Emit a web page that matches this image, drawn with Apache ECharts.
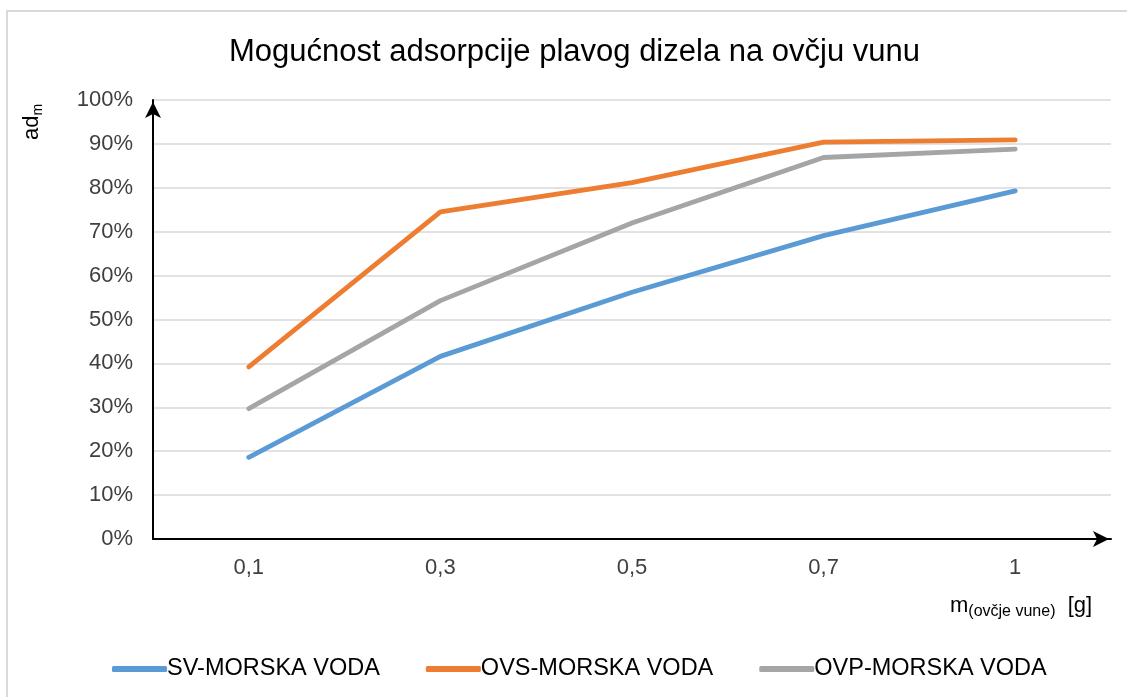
<!doctype html>
<html>
<head>
    <meta charset="utf-8">
    <title>Mogućnost adsorpcije plavog dizela na ovčju vunu</title>
    <script src="https://cdn.jsdelivr.net/npm/echarts@6/dist/echarts.min.js"></script>
    <style>
        html, body { margin: 0; padding: 0; background: #fff; }
        #chart { width: 1127px; height: 697px; }
    </style>
</head>
<body>
<div id="chart"></div>
<script type="text/javascript">
    // mase vune (g)
    var categories = ['0,1', '0,3', '0,5', '0,7', '1'];
    // ad_m u %
    var svMorska = [18.6, 41.6, 56.2, 69.1, 79.3];
    var ovsMorska = [39.2, 74.5, 81.2, 90.4, 90.9];
    var ovpMorska = [29.7, 54.3, 72.0, 86.9, 88.8];
    var seriesNames = ['SV-MORSKA VODA', 'OVS-MORSKA VODA', 'OVP-MORSKA VODA'];
    var colors = ['#5b9bd5', '#ed7d31', '#a5a5a5'];

    var font = 'Liberation Sans, Arial, sans-serif';
    var myChart = echarts.init(document.getElementById('chart'));

    function lineSeries(name, data, color) {
        return {
            name: name,
            type: 'line',
            data: data,
            symbol: 'none',
            smooth: false,
            lineStyle: { color: color, width: 4.8, cap: 'round', join: 'round' },
            itemStyle: { color: color },
            emphasis: { disabled: true }
        };
    }

    var option = {
        backgroundColor: '#fff',
        animation: false,
        color: colors,
        title: {
            text: 'Mogućnost adsorpcije plavog dizela na ovčju vunu',
            left: 224,
            top: 32,
            textStyle: { fontFamily: font, fontSize: 31, fontWeight: 'normal', color: '#000' }
        },
        grid: { left: 153, right: 16, top: 100, bottom: 158 },
        legend: {
            data: seriesNames,
            left: 107,
            top: 652,
            icon: 'roundRect',
            itemWidth: 55,
            itemHeight: 6,
            itemGap: 46,
            textStyle: { fontFamily: font, fontSize: 23.5, color: '#000', padding: [0, 0, 0, -5] }
        },
        xAxis: {
            type: 'category',
            data: categories,
            boundaryGap: true,
            axisLine: {
                show: true,
                symbol: ['none', 'arrow'],
                symbolSize: [12, 16],
                symbolOffset: [0, -2],
                lineStyle: { color: '#000', width: 2 }
            },
            axisTick: { show: false },
            axisLabel: { fontFamily: font, fontSize: 22, color: '#404040', margin: 18 },
            splitLine: { show: false }
        },
        yAxis: {
            type: 'value',
            min: 0,
            max: 100,
            interval: 10,
            axisLine: {
                show: true,
                symbol: ['none', 'arrow'],
                symbolSize: [12, 16],
                symbolOffset: [0, -2],
                lineStyle: { color: '#000', width: 2 }
            },
            axisTick: { show: false },
            axisLabel: { fontFamily: font, fontSize: 22, color: '#404040', margin: 20, formatter: '{value}%' },
            splitLine: { show: true, lineStyle: { color: '#d9d9d9', width: 1.5 } }
        },
        graphic: [
            {
                type: 'rect',
                shape: { x: 7, y: 11, width: 1140, height: 720 },
                style: { fill: 'none', stroke: '#d9d9d9', lineWidth: 2 },
                z: -1
            },
            {
                type: 'text',
                x: 32,
                y: 122,
                rotation: Math.PI / 2,
                style: {
                    text: '{a|ad}{s|m}',
                    align: 'center',
                    verticalAlign: 'middle',
                    rich: {
                        a: { fontFamily: font, fontSize: 22, fill: '#000' },
                        s: { fontFamily: font, fontSize: 14, fill: '#000', padding: [12, 0, 0, 0] }
                    }
                }
            },
            {
                type: 'text',
                x: 950,
                y: 606,
                style: {
                    text: '{a|m}{s|(ovčje vune)}{a|  [g]}',
                    verticalAlign: 'middle',
                    rich: {
                        a: { fontFamily: font, fontSize: 22, fill: '#000' },
                        s: { fontFamily: font, fontSize: 16, fill: '#000', padding: [12, 0, 0, 0] }
                    }
                }
            }
        ],
        series: [
            lineSeries(seriesNames[0], svMorska, colors[0]),
            lineSeries(seriesNames[1], ovsMorska, colors[1]),
            lineSeries(seriesNames[2], ovpMorska, colors[2])
        ]
    };

    myChart.setOption(option);
</script>
</body>
</html>
